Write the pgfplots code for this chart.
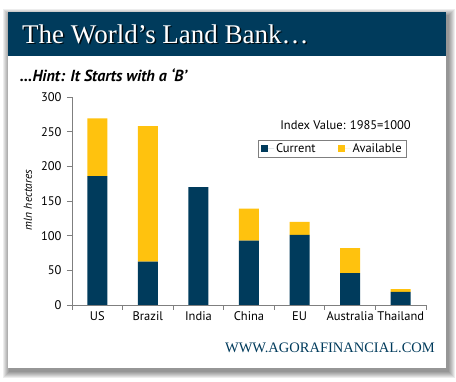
\documentclass[border=0pt]{standalone}
\usepackage{pgfplots}
\pgfplotsset{compat=1.18}
\usepackage{fontspec}
\setmainfont{PT Sans}
\newfontfamily\serif{Liberation Serif}
\definecolor{navy}{HTML}{003B5C}
\definecolor{gold}{HTML}{FFC20E}
\definecolor{axisgray}{HTML}{7F7F7F}
\begin{document}
\begin{tikzpicture}[x=1pt,y=1pt]
\useasboundingbox (0,0) rectangle (456,381);
\fill[white] (0,0) rectangle (456,381);
% shadow
\foreach \i in {1,...,7}{
  \fill[black,opacity=0.07] (8-\i+2,13-\i-3) rectangle (446+\i+2,369+\i-4);
}
\fill[white] (8,13) rectangle (446,369);
% banner
\fill[navy] (8,325) rectangle (446,369);
\node[anchor=west,inner sep=0,text=black,opacity=0.8] at (23.5,345.5) {\serif\fontsize{27}{27}\selectfont The World’s Land Bank…};
\node[anchor=west,inner sep=0,text=white] at (22,347) {\serif\fontsize{27}{27}\selectfont The World’s Land Bank…};
\node[anchor=west,inner sep=0] at (20,306) {\fontsize{16}{16}\selectfont\bfseries\itshape …Hint: It Starts with a ‘B’};
\node[anchor=east,inner sep=0,text=navy] at (435,33) {\serif\fontsize{14.5}{14.5}\selectfont WWW.AGORAFINANCIAL.COM};
\begin{axis}[
  at={(72pt,76pt)}, anchor=south west,
  scale only axis, width=354pt, height=208pt,
  xmin=-0.5, xmax=6.5, ymin=0, ymax=300,
  ybar stacked, bar width=20pt,
  axis x line*=bottom, axis y line*=left,
  axis line style={axisgray, line width=0.8pt},
  tick style={axisgray, line width=0.8pt},
  tick align=outside, major tick length=5pt,
  ytick={0,50,...,300},
  xtick={-0.5,0.5,...,6.5}, xticklabels={},
  extra x ticks={0,1,2,3,4,5,6},
  extra x tick labels={US,Brazil,India,China,EU,Australia,Thailand},
  extra x tick style={major tick length=0pt, xticklabel style={yshift=-3pt}},
  ticklabel style={font=\fontsize{12.5}{12.5}\selectfont, text=black},
  yticklabel style={xshift=-2pt},
  /pgf/number format/assume math mode=true,
  legend style={at={(0.525,0.793)}, anchor=north west, draw=axisgray,
    legend columns=2, font=\fontsize{12.5}{12.5}\selectfont,
    /tikz/every even column/.append style={column sep=20pt},
    inner ysep=1.5pt, inner xsep=3pt},
  legend image code/.code={\fill[#1] (0pt,-3.5pt) rectangle (7pt,3.5pt); \path (0pt,0pt) -- (13pt,0pt);},
]
\addplot[fill=navy, draw=none] coordinates {(0,186) (1,62.5) (2,170) (3,93) (4,101) (5,46) (6,19)};
\addplot[fill=gold, draw=none] coordinates {(0,83) (1,195.5) (2,0) (3,46) (4,19) (5,36) (6,4)};
\legend{Current, Available}
\end{axis}
\node[anchor=east,inner sep=0] at (411,256) {\fontsize{12.5}{12.5}\selectfont Index Value: 1985=1000};
\node[rotate=90,inner sep=0] at (28,181) {\fontsize{11.5}{11.5}\selectfont\itshape mln hectares};
\end{tikzpicture}
\end{document}
